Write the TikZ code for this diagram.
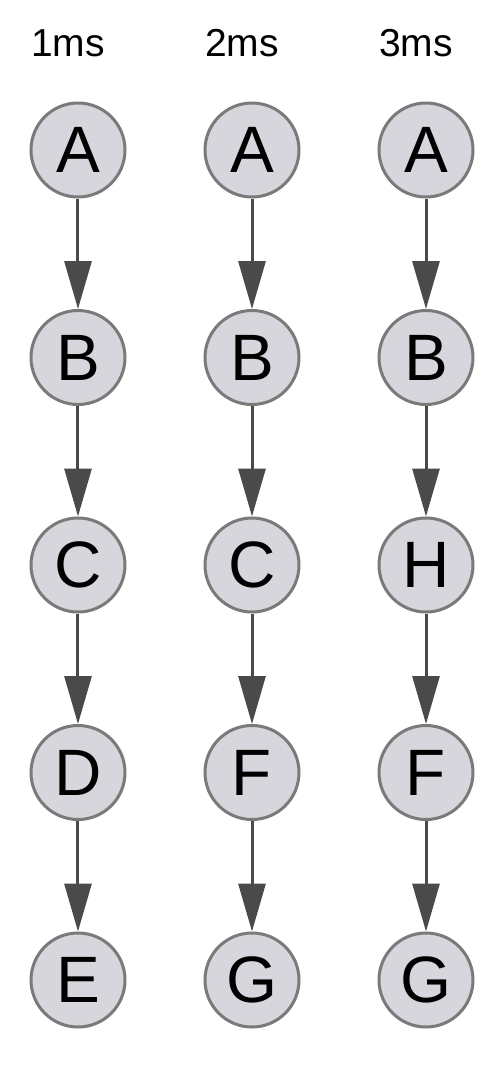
\documentclass[tikz,border=0pt]{standalone}
\usepackage{fontspec}
\setmainfont{Liberation Sans}
\usepackage{tikz}
\usetikzlibrary{arrows.meta, positioning}
\definecolor{nodefill}{HTML}{D6D6DC}
\definecolor{nodeline}{HTML}{7A7A7A}
\definecolor{edgecol}{HTML}{4A4A4A}

\begin{document}
\begin{tikzpicture}[
   node distance=55.25pt and 38.5pt,
   state/.style={circle, draw=nodeline, line width=1.5pt, fill=nodefill,
                 minimum size=47pt, inner sep=0pt,
                 font=\fontsize{32.8pt}{36pt}\selectfont},
   tlabel/.style={inner sep=0pt, xshift=-5pt, font=\fontsize{19.5pt}{22pt}\selectfont},
   arr/.style={-{Triangle[length=24pt, width=13.5pt]}, line width=1.5pt, edgecol}]
 \useasboundingbox (-39pt,75pt) rectangle (212pt,-461pt);
 % column 1
 \node[state] (a1) {A};
 \node[state, below=of a1] (b1) {B};
 \node[state, below=of b1] (c1) {C};
 \node[state, below=of c1] (d1) {D};
 \node[state, below=of d1] (e1) {E};
 % column 2
 \node[state, right=of a1] (a2) {A};
 \node[state, below=of a2] (b2) {B};
 \node[state, below=of b2] (c2) {C};
 \node[state, below=of c2] (f2) {F};
 \node[state, below=of f2] (g2) {G};
 % column 3
 \node[state, right=of a2] (a3) {A};
 \node[state, below=of a3] (b3) {B};
 \node[state, below=of b3] (h3) {H};
 \node[state, below=of h3] (f3) {F};
 \node[state, below=of f3] (g3) {G};
 % time labels
 \node[tlabel, above=22pt of a1] (t1) {1ms};
 \node[tlabel, above=22pt of a2] (t2) {2ms};
 \node[tlabel, above=22pt of a3] (t3) {3ms};
 \draw[arr] (a1) -- (b1);
 \draw[arr] (b1) -- (c1);
 \draw[arr] (c1) -- (d1);
 \draw[arr] (d1) -- (e1);
 \draw[arr] (a2) -- (b2);
 \draw[arr] (b2) -- (c2);
 \draw[arr] (c2) -- (f2);
 \draw[arr] (f2) -- (g2);
 \draw[arr] (a3) -- (b3);
 \draw[arr] (b3) -- (h3);
 \draw[arr] (h3) -- (f3);
 \draw[arr] (f3) -- (g3);
\end{tikzpicture}
\end{document}
